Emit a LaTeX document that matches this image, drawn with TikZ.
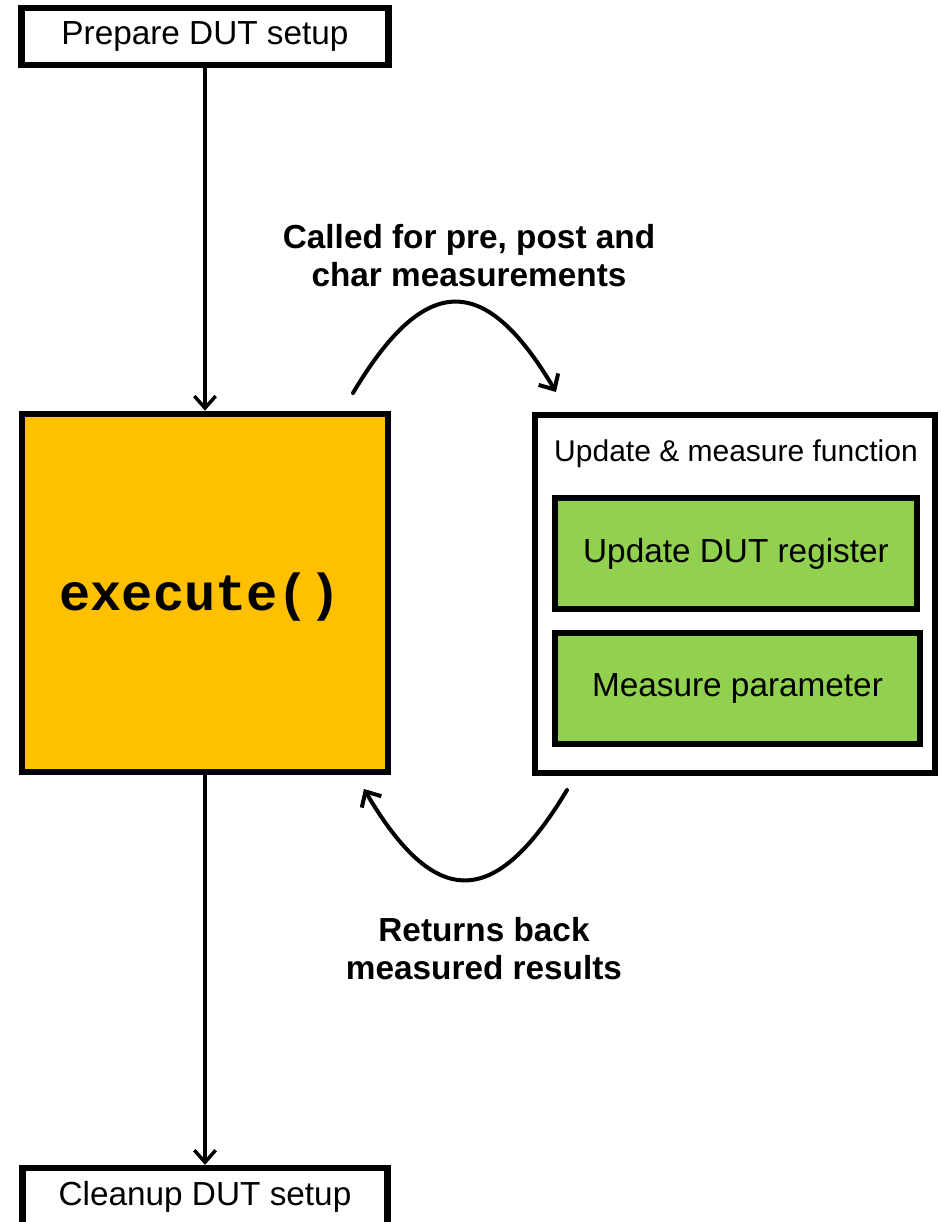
\documentclass[tikz,border=0pt]{standalone}
\usepackage{fontspec}
\setmainfont{Liberation Sans}
\newfontfamily\codefont{Liberation Mono}
\usetikzlibrary{arrows.meta}
\definecolor{execfill}{HTML}{FFC000}
\definecolor{greenfill}{HTML}{92D050}
\tikzset{
  plainbox/.style={draw=black, line width=4.8pt, fill=white, rectangle, inner sep=0pt,
    font=\fontsize{25}{30}\selectfont},
  execbox/.style={draw=black, line width=5pt, fill=execfill, rectangle, inner sep=0pt,
    font=\codefont\bfseries\fontsize{39}{44}\selectfont},
  outerbox/.style={draw=black, line width=4.6pt, fill=white, rectangle, inner sep=0pt},
  greenbox/.style={draw=black, line width=5pt, fill=greenfill, rectangle, inner sep=0pt,
    font=\fontsize{25}{30}\selectfont},
  lbl/.style={align=center, inner sep=0pt, font=\bfseries\fontsize{25}{28.5}\selectfont},
  conn/.style={line width=2.6pt, -{Straight Barb[length=9pt, width=16pt, line width=2.6pt]}},
  curvy/.style={line width=3pt, line cap=round, -{Straight Barb[length=9pt, width=17pt, line width=3pt]}},
}
\begin{document}
\begin{tikzpicture}[x=0.75pt, y=-0.75pt]
\clip (0,0) rectangle (941,1222);
\useasboundingbox (0,0) rectangle (941,1222);
\fill[white] (0,0) rectangle (941,1222);

\node[plainbox, minimum width=275pt, minimum height=42.75pt] (prep) at (205,36.5) {Prepare DUT setup};
\node[execbox, minimum width=274.5pt, minimum height=268.5pt] (exec) at (205,593) {};
\node[inner sep=0pt, font=\codefont\bfseries\fontsize{39}{44}\selectfont] (execlbl) at (200,597) {execute()};
\node[plainbox, minimum width=274pt, minimum height=42.75pt] (clean) at (205,1196.5) {Cleanup DUT setup};

\node[outerbox, minimum width=300pt, minimum height=268.5pt] (upd) at (735,594) {};
\node[inner sep=0pt, font=\fontsize{22.5}{26}\selectfont] (updtitle) at (736,454) {Update \& measure function};
\node[greenbox, minimum width=271.5pt, minimum height=83.25pt] (reg) at (736,553.5) {Update DUT register};
\node[greenbox, minimum width=273.75pt, minimum height=83.25pt] (meas) at (737.5,688.5) {Measure parameter};

\node[lbl] (calledlbl) at (469,256) {Called for pre, post and\\char measurements};
\node[lbl] (retlbl) at (484,949) {Returns back\\measured results};

\draw[conn] (prep.south) -- (exec.north);
\draw[conn] (exec.south) -- (clean.north);

\coordinate (c1s) at (353,393);
\coordinate (c1e) at (556,392);
\draw[curvy] (c1s) .. controls (425,272) and (485,272) .. (c1e);

\coordinate (c2s) at (567,790);
\coordinate (c2e) at (364,789);
\draw[curvy] (c2s) .. controls (495,910) and (435,910) .. (c2e);
\end{tikzpicture}
\end{document}
